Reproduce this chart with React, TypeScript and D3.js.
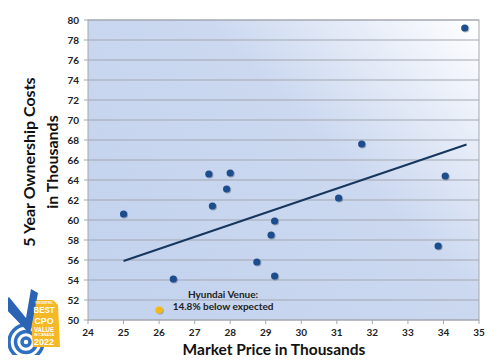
import React, { useEffect, useRef } from 'react';
import * as d3 from 'd3';

const W = 498;
const H = 363;

// market price (thousands) and 5-year ownership cost (thousands)
const prices = [25.0, 26.4, 27.4, 27.5, 27.9, 28.0, 28.75, 29.15, 29.25, 29.25, 31.05, 31.7, 33.85, 34.05, 34.6];
const costs = [60.6, 54.1, 64.6, 61.4, 63.1, 64.7, 55.8, 58.5, 59.9, 54.4, 62.2, 67.6, 57.4, 64.4, 79.2];

const highlight = { price: 26.0, cost: 51.0 };
const trendX = [25.0, 34.65];
const trendY = [55.9, 67.55];

const xTicks = d3.range(24, 36, 1);
const yTicks = d3.range(50, 81, 2);

const FONT = 'Lato, "Open Sans", sans-serif';

export default function App() {
  const svgRef = useRef<SVGSVGElement>(null);

  useEffect(() => {
    if (!svgRef.current) return;
    const svg = d3.select(svgRef.current);
    svg.selectAll('*').remove();

    const margin = { top: 20, right: 19, bottom: 43, left: 88 };
    const width = W - margin.left - margin.right;
    const height = H - margin.top - margin.bottom;

    const defs = svg.append('defs');
    const grad = defs.append('linearGradient')
      .attr('id', 'bg')
      .attr('x1', '0').attr('y1', '0.75')
      .attr('x2', '1').attr('y2', '0');
    grad.append('stop').attr('offset', '0%').attr('stop-color', '#c4d3ee');
    grad.append('stop').attr('offset', '55%').attr('stop-color', '#cbd8f0');
    grad.append('stop').attr('offset', '100%').attr('stop-color', '#ffffff');

    const shadow = defs.append('filter').attr('id', 'sh')
      .attr('x', '-50%').attr('y', '-50%').attr('width', '200%').attr('height', '200%');
    shadow.append('feDropShadow')
      .attr('dx', 0.8).attr('dy', 0.8).attr('stdDeviation', 0.7)
      .attr('flood-color', '#000').attr('flood-opacity', 0.35);

    // outer frame
    svg.append('rect')
      .attr('x', 1).attr('y', 1).attr('width', W - 2).attr('height', H - 2)
      .attr('fill', '#ffffff').attr('stroke', '#9dbbe0').attr('stroke-width', 2);

    const g = svg.append('g').attr('transform', `translate(${margin.left},${margin.top})`);

    const x = d3.scaleLinear().domain([24, 35]).range([0, width]);
    const y = d3.scaleLinear().domain([50, 80]).range([height, 0]);

    g.append('rect')
      .attr('width', width).attr('height', height)
      .attr('fill', 'url(#bg)');

    // gridlines
    g.append('g')
      .selectAll('line')
      .data(yTicks)
      .enter().append('line')
      .attr('x1', -4).attr('x2', width)
      .attr('y1', d => y(d)).attr('y2', d => y(d))
      .attr('stroke', '#a3a7b0').attr('stroke-width', 1);

    g.append('rect')
      .attr('width', width).attr('height', height)
      .attr('fill', 'none').attr('stroke', '#a3a7b0').attr('stroke-width', 1);

    // x ticks
    g.append('g')
      .selectAll('line')
      .data(xTicks)
      .enter().append('line')
      .attr('x1', d => x(d)).attr('x2', d => x(d))
      .attr('y1', height).attr('y2', height + 4)
      .attr('stroke', '#a3a7b0');

    g.append('g')
      .selectAll('text')
      .data(xTicks)
      .enter().append('text')
      .attr('x', d => x(d)).attr('y', height + 16)
      .attr('text-anchor', 'middle')
      .style('font-family', FONT).style('font-weight', 'bold').style('font-size', '10px')
      .attr('fill', '#222')
      .text(d => d);

    g.append('g')
      .selectAll('text')
      .data(yTicks)
      .enter().append('text')
      .attr('x', -9).attr('y', d => y(d) + 3.5)
      .attr('text-anchor', 'end')
      .style('font-family', FONT).style('font-weight', 'bold').style('font-size', '10px')
      .attr('fill', '#222')
      .text(d => d);

    // trend line
    const line = d3.line<number>()
      .x((d, i) => x(trendX[i]))
      .y(d => y(d));
    g.append('path')
      .datum(trendY)
      .attr('fill', 'none')
      .attr('stroke', '#17365d')
      .attr('stroke-width', 2)
      .attr('d', line);

    // points
    g.append('g')
      .selectAll('circle')
      .data(prices)
      .enter().append('circle')
      .attr('cx', d => x(d))
      .attr('cy', (d, i) => y(costs[i]))
      .attr('r', 3.6)
      .attr('fill', '#1f4e8c')
      .attr('filter', 'url(#sh)');

    g.append('circle')
      .attr('cx', x(highlight.price)).attr('cy', y(highlight.cost))
      .attr('r', 3.6)
      .attr('fill', '#f7b90d')
      .attr('filter', 'url(#sh)');

    // annotation
    const ann = g.append('text')
      .attr('text-anchor', 'middle')
      .style('font-family', FONT).style('font-weight', 'bold').style('font-size', '10px')
      .attr('fill', '#222');
    ann.append('tspan').attr('x', x(27.8)).attr('y', y(52.2)).text('Hyundai Venue:');
    ann.append('tspan').attr('x', x(27.8)).attr('y', y(51.0)).text('14.8% below expected');

    // axis titles
    svg.append('text')
      .attr('x', 274).attr('y', 354.5)
      .attr('text-anchor', 'middle')
      .style('font-family', FONT).style('font-weight', 'bold').style('font-size', '15.5px')
      .attr('fill', '#111')
      .text('Market Price in Thousands');

    const yt = svg.append('text')
      .attr('transform', `translate(35, 162) rotate(-90)`)
      .attr('text-anchor', 'middle')
      .style('font-family', FONT).style('font-weight', 'bold').style('font-size', '16px')
      .attr('fill', '#111');
    yt.append('tspan').attr('x', 0).attr('y', 0).text('5 Year Ownership Costs');
    yt.append('tspan').attr('x', 0).attr('y', 23).text('in Thousands');

    // badge
    const b = svg.append('g');
    [17, 10.5, 4].forEach(r => {
      b.append('circle')
        .attr('cx', 26).attr('cy', 342).attr('r', r)
        .attr('fill', 'none').attr('stroke', '#2f6fbf').attr('stroke-width', 3.5);
    });
    b.append('path')
      .attr('d', 'M29,300 L53,300 L58,305 L60,347 L33,347 Z')
      .attr('fill', '#f6b824');
    b.append('path')
      .attr('d', 'M1,304 L9,297 L26,318 L31,289 L38,293 L30,334 Z')
      .attr('fill', '#2b64b4');
    const bt = b.append('g')
      .attr('fill', '#ffffff')
      .attr('text-anchor', 'middle')
      .style('font-family', 'Arial, "Liberation Sans", sans-serif')
      .style('font-weight', 'bold');
    const badgeText: [string, number, number, number][] = [
      ['VINCENTRIC', 303.5, 3, 18],
      ['BEST', 313, 9, 21],
      ['CPO', 323.5, 9, 19],
      ['VALUE', 331.5, 6.5, 20],
      ['IN CANADA', 336, 3.2, 20],
      ['2022', 344.5, 8.5, 20],
    ];
    badgeText.forEach(([t, by, fs, len]) => {
      bt.append('text')
        .attr('x', 44).attr('y', by)
        .attr('textLength', len).attr('lengthAdjust', 'spacingAndGlyphs')
        .style('font-size', `${fs}px`)
        .text(t);
    });
  }, []);

  return (
    <div style={{ margin: -8 }}>
      <svg ref={svgRef} width={W} height={H} style={{ display: 'block' }} />
    </div>
  );
}
